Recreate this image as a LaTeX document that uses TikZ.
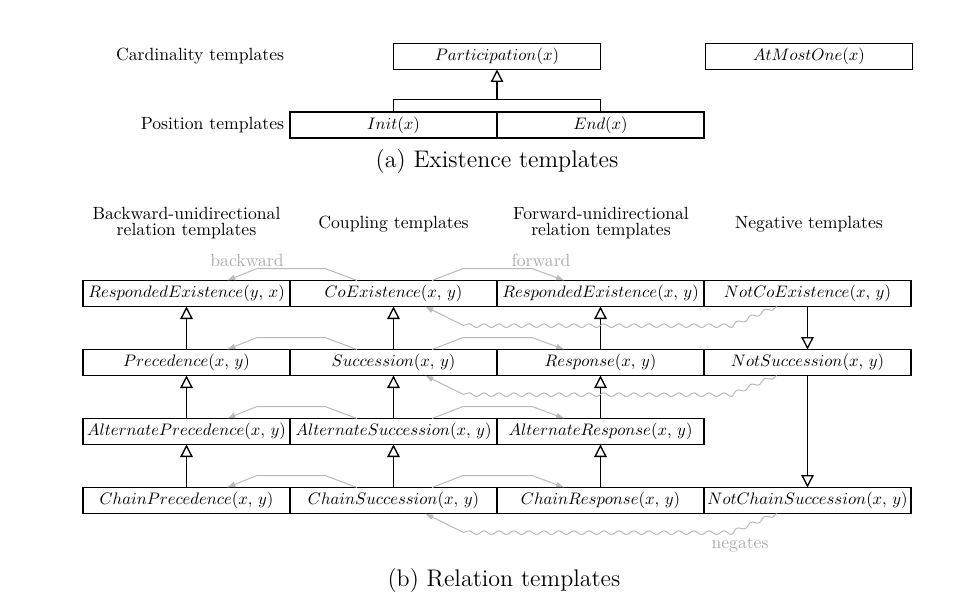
\documentclass[tikz,border=0pt]{standalone}
\usetikzlibrary{positioning, calc, arrows.meta, decorations.pathmorphing}

\begin{document}
\begin{tikzpicture}[x=0.6pt, y=-0.6pt, node distance=25.8pt and 0pt,
    tmpl/.style={draw, line width=0.9pt, minimum width=124.2pt, minimum height=15.6pt, inner sep=0pt, outer sep=0pt,
        font=\fontsize{10.3}{12}\selectfont},
    inherit/.style={line width=0.8pt, -{Triangle[open, length=7.5pt, width=7.5pt]}},
    dir/.style={draw=gray!55, line width=0.6pt, -{Latex[length=5pt, width=3.5pt]}},
    neg/.style={dir, decorate, decoration={snake, amplitude=1.1pt, segment length=9pt, post length=23pt}},
    txt/.style={font=\fontsize{10.6}{9.8}\selectfont},
    hdr/.style={txt, align=center},
    lbl/.style={txt, text=gray!65}]
    \useasboundingbox (0,0) rectangle (960,603);

    % existence templates
    \node[tmpl] (part) at (497,56.5) {$Participation(x)$};
    \node[tmpl] (amo) at (809,56.5) {$AtMostOne(x)$};
    \node[tmpl] (init) at (393.5,125) {$Init(x)$};
    \node[tmpl, right=of init] (end) {$End(x)$};
    \node[txt, left=0pt of init] (pos) {Position templates};
    \node[txt, anchor=east] (card) at (pos.east |- part) {Cardinality templates};

    \coordinate (join) at ($(part.south)+(0,30)$);
    \draw[line width=0.8pt] (init.north) |- (join) -| (end.north);
    \draw[inherit] (join) -- (part.south);

    \node[font=\Large] (capa) at (497,162) {(a) Existence templates};

    % column headers
    \node[hdr] (hbw) at (186.5,223) {Backward-unidirectional\\relation templates};
    \node[hdr] (hcp) at (393.5,224) {Coupling templates};
    \node[hdr] (hfw) at (601,223) {Forward-unidirectional\\relation templates};
    \node[hdr] (hng) at (809,224) {Negative templates};

    % relation templates, row by row
    \node[tmpl] (rex) at (186.5,293.5) {$RespondedExistence(y,\,x)$};
    \node[tmpl, right=of rex] (coex) {$CoExistence(x,\,y)$};
    \node[tmpl, right=of coex] (rexf) {$RespondedExistence(x,\,y)$};
    \node[tmpl, right=of rexf] (ncoex) {$NotCoExistence(x,\,y)$};

    \node[tmpl, below=of rex] (prec) {$Precedence(x,\,y)$};
    \node[tmpl, right=of prec] (succ) {$Succession(x,\,y)$};
    \node[tmpl, right=of succ] (resp) {$Response(x,\,y)$};
    \node[tmpl, right=of resp] (nsucc) {$NotSuccession(x,\,y)$};

    \node[tmpl, below=of prec] (aprec) {$AlternatePrecedence(x,\,y)$};
    \node[tmpl, right=of aprec] (asucc) {$AlternateSuccession(x,\,y)$};
    \node[tmpl, right=of asucc] (aresp) {$AlternateResponse(x,\,y)$};

    \node[tmpl, below=of aprec] (cprec) {$ChainPrecedence(x,\,y)$};
    \node[tmpl, right=of cprec] (csucc) {$ChainSuccession(x,\,y)$};
    \node[tmpl, right=of csucc] (cresp) {$ChainResponse(x,\,y)$};
    \node[tmpl, right=of cresp] (ncsucc) {$NotChainSuccession(x,\,y)$};

    % subsumption
    \draw[inherit] (prec.north) -- (rex.south);
    \draw[inherit] (aprec.north) -- (prec.south);
    \draw[inherit] (cprec.north) -- (aprec.south);
    \draw[inherit] (succ.north) -- (coex.south);
    \draw[inherit] (asucc.north) -- (succ.south);
    \draw[inherit] (csucc.north) -- (asucc.south);
    \draw[inherit] (resp.north) -- (rexf.south);
    \draw[inherit] (aresp.north) -- (resp.south);
    \draw[inherit] (cresp.north) -- (aresp.south);
    \draw[inherit] (ncoex.south) -- (nsucc.north);
    \draw[inherit] (nsucc.south) -- (ncsucc.north);

    % backward and forward
    \draw[dir] ($(coex.north)+(-36.5,0)$) -- ++(-32,-12) -- ++(-68,0) -- ($(rex.north)+(40.5,0)$);
    \draw[dir] ($(coex.north)+(38.5,0)$) -- ++(31,-12) -- ++(69,0) -- ($(rexf.north)+(-36,0)$);
    \draw[dir] ($(succ.north)+(-36.5,0)$) -- ++(-32,-12) -- ++(-68,0) -- ($(prec.north)+(40.5,0)$);
    \draw[dir] ($(succ.north)+(38.5,0)$) -- ++(31,-12) -- ++(69,0) -- ($(resp.north)+(-36,0)$);
    \draw[dir] ($(asucc.north)+(-36.5,0)$) -- ++(-32,-12) -- ++(-68,0) -- ($(aprec.north)+(40.5,0)$);
    \draw[dir] ($(asucc.north)+(38.5,0)$) -- ++(31,-12) -- ++(69,0) -- ($(aresp.north)+(-36,0)$);
    \draw[dir] ($(csucc.north)+(-36.5,0)$) -- ++(-32,-12) -- ++(-68,0) -- ($(cprec.north)+(40.5,0)$);
    \draw[dir] ($(csucc.north)+(38.5,0)$) -- ++(31,-12) -- ++(69,0) -- ($(cresp.north)+(-36,0)$);
    \node[lbl] (bwd) at (247,260) {backward};
    \node[lbl] (fwd) at (541,260) {forward};

    % negation
    \draw[neg] ($(ncoex.south)+(-31,0)$) -- ++(-45,19) -- ++(-268,0) -- ($(coex.south)+(31.5,0)$);
    \draw[neg] ($(nsucc.south)+(-31,0)$) -- ++(-45,19) -- ++(-268,0) -- ($(succ.south)+(31.5,0)$);
    \draw[neg] ($(ncsucc.south)+(-31,0)$) -- ++(-45,19) -- ++(-268,0) -- ($(csucc.south)+(31.5,0)$);
    \node[lbl] (ngt) at (740,545) {negates};

    \node[font=\Large] (capb) at (504,581) {(b) Relation templates};
\end{tikzpicture}
\end{document}
